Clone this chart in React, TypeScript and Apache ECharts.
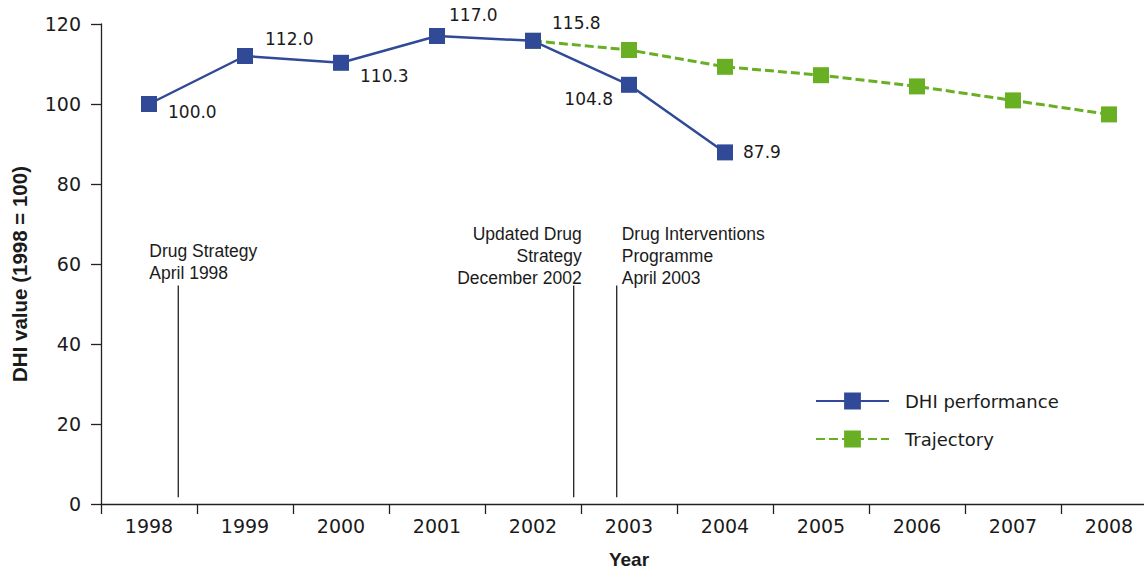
import React, { useEffect, useRef } from "react";
import * as echarts from "echarts";

// Years on the category axis
const years = ["1998", "1999", "2000", "2001", "2002", "2003", "2004", "2005", "2006", "2007", "2008"];

// DHI performance (1998 = 100)
const dhiPerformance = [100.0, 112.0, 110.3, 117.0, 115.8, 104.8, 87.9, null, null, null, null];

// Projected trajectory from 2002 onwards
const trajectory = [null, null, null, null, 115.8, 113.5, 109.3, 107.2, 104.4, 100.9, 97.4];

// Value axis
const yMin = 0;
const yMax = 120;
const yStep = 20;

// Policy milestones: position on the year scale (fractional category index) and their captions
const milestoneX = [0.305, 4.424, 4.872];
const milestoneLabels = [
  "Drug Strategy\nApril 1998",
  "Updated Drug\nStrategy\nDecember 2002",
  "Drug Interventions\nProgramme\nApril 2003",
];
const milestoneFrom = 1.7;
const milestoneTo = 54.6;

const BLUE = "#304A97";
const GREEN = "#69AF23";
const INK = "#1b1b1b";
const NUM_FONT = "DejaVu Sans";
const TEXT_FONT = "Liberation Sans";

// where each DHI value label sits relative to its marker
const labelPlacement: Array<{ side: "left" | "right"; offset: [number, number] }> = [
  { side: "right", offset: [11, 8] },
  { side: "right", offset: [12, -17] },
  { side: "right", offset: [11, 13] },
  { side: "right", offset: [4, -21] },
  { side: "right", offset: [11, -18] },
  { side: "left", offset: [-8, 14] },
  { side: "right", offset: [10, 0] },
];

// caption placement next to each milestone line
const captionPlacement: Array<{ align: "left" | "right"; dx: number; dy: number }> = [
  { align: "left", dx: -29, dy: -2 },
  { align: "right", dx: 8, dy: 3 },
  { align: "left", dx: 5, dy: 3 },
];

export default function App() {
  const ref = useRef<HTMLDivElement>(null);

  useEffect(() => {
    if (!ref.current) return;
    const chart = echarts.init(ref.current, undefined, { renderer: "svg" });

    const dhiData = dhiPerformance.map((v, i) => {
      if (v === null) return null;
      const p = labelPlacement[i];
      return {
        value: v,
        label: {
          show: true,
          position: p.side,
          distance: 0,
          offset: p.offset,
          formatter: (d: any) => Number(d.value).toFixed(1),
        },
      };
    });

    const milestoneSeries = milestoneX.map((x, i) => ({
      name: "milestone" + i,
      type: "line",
      xAxisIndex: 1,
      yAxisIndex: 0,
      data: [
        [x, milestoneFrom],
        [x, milestoneTo],
      ],
      symbol: "none",
      silent: true,
      lineStyle: { color: "#222", width: 1.3 },
      z: 1,
    }));

    chart.setOption({
      animation: false,
      backgroundColor: "#ffffff",
      textStyle: { fontFamily: NUM_FONT, color: INK },
      grid: {
        left: 101,
        top: 24,
        width: 1056,
        height: 480,
        containLabel: false,
        outerBoundsMode: "none",
      },
      legend: {
        data: ["DHI performance", "Trajectory"],
        orient: "vertical",
        left: 815,
        top: 392,
        padding: 0,
        itemWidth: 73,
        itemHeight: 21,
        itemGap: 20,
        textStyle: {
          fontFamily: NUM_FONT,
          fontSize: 18,
          color: INK,
          padding: [0, 0, 0, 11],
        },
      },
      xAxis: [
        {
          type: "category",
          data: years,
          boundaryGap: true,
          name: "Year",
          nameLocation: "middle",
          nameGap: 46,
          nameTextStyle: { fontFamily: TEXT_FONT, fontWeight: "bold", fontSize: 19, color: INK },
          axisLine: { onZero: false, lineStyle: { color: "#222", width: 1.3 } },
          axisTick: { show: true, length: 10, alignWithLabel: false, lineStyle: { color: "#222", width: 1.3 } },
          axisLabel: { fontFamily: NUM_FONT, fontSize: 19, color: INK, margin: 12, interval: 0 },
          splitLine: { show: false },
        },
        {
          type: "value",
          min: -0.5,
          max: 10.5,
          show: false,
          splitLine: { show: false },
        },
      ],
      yAxis: {
        type: "value",
        min: yMin,
        max: yMax,
        interval: yStep,
        name: "DHI value (1998 = 100)",
        nameLocation: "middle",
        nameGap: 71,
        nameTextStyle: { fontFamily: TEXT_FONT, fontWeight: "bold", fontSize: 20.5, color: INK, padding: [0, 20, 0, 0] },
        axisLine: { show: true, onZero: false, lineStyle: { color: "#222", width: 1.3 } },
        axisTick: { show: true, length: 10, lineStyle: { color: "#222", width: 1.3 } },
        axisLabel: { fontFamily: NUM_FONT, fontSize: 19, color: INK, margin: 20 },
        splitLine: { show: false },
      },
      series: [
        ...milestoneSeries,
        {
          name: "Trajectory",
          type: "line",
          data: trajectory,
          symbol: "rect",
          symbolSize: 16,
          connectNulls: false,
          itemStyle: { color: GREEN },
          lineStyle: { color: GREEN, width: 3, type: [9, 4] },
          z: 2,
        },
        {
          name: "DHI performance",
          type: "line",
          data: dhiData,
          symbol: "rect",
          symbolSize: 16,
          itemStyle: { color: BLUE },
          lineStyle: { color: BLUE, width: 2.5 },
          label: { fontFamily: NUM_FONT, fontSize: 17, color: INK },
          z: 3,
        },
      ],
    });

    // captions anchored to the top of each milestone line
    const captions = milestoneX.map((x, i) => {
      const [px, py] = chart.convertToPixel({ xAxisIndex: 1, yAxisIndex: 0 }, [x, milestoneTo]) as number[];
      const c = captionPlacement[i];
      return {
        type: "text",
        silent: true,
        x: px + c.dx,
        y: py + c.dy,
        style: {
          text: milestoneLabels[i],
          align: c.align,
          verticalAlign: "bottom",
          lineHeight: 22,
          fontFamily: TEXT_FONT,
          fontSize: 17.5,
          fill: INK,
        },
      };
    });
    chart.setOption({ graphic: captions });

    return () => chart.dispose();
  }, []);

  return (
    <div
      ref={ref}
      style={{ position: "fixed", left: 0, top: 0, width: 1144, height: 569, background: "#fff" }}
    />
  );
}
